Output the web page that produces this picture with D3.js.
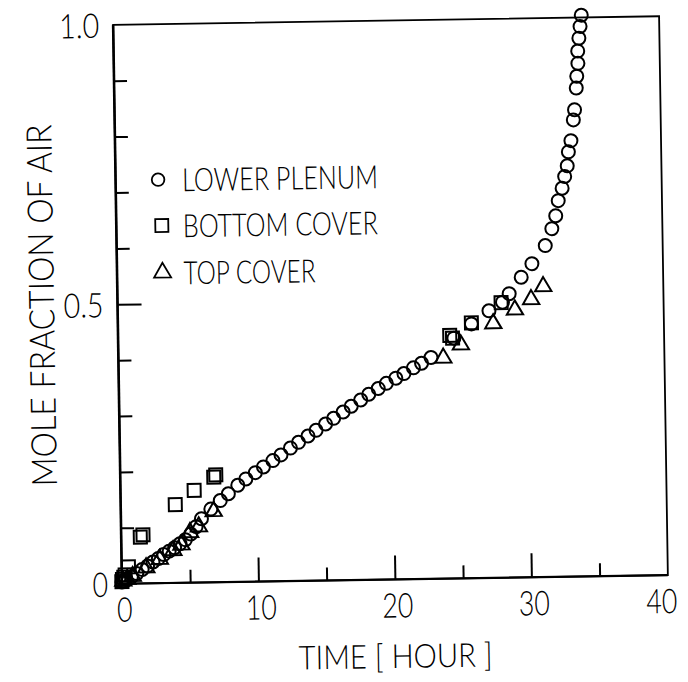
<!DOCTYPE html>
<html>
<head>
<meta charset="utf-8">
<script src="https://cdn.jsdelivr.net/npm/d3@7"></script>
<style>
  html, body { margin: 0; padding: 0; background: #fff; }
  svg { display: block; }
  text { font-family: "Lato", "Liberation Sans", sans-serif; font-weight: 300; fill: #000; }
</style>
</head>
<body>
<svg id="chart" width="688" height="682"></svg>
<script>
// ---- data ----
const lowerTime = [0, 0.15, 0.3, 0.7, 1.1, 1.5, 1.9, 2.3, 2.7, 3.1, 3.5, 3.9, 4.3, 4.7, 5.1, 5.5, 5.9,
  6.6, 7.3, 7.9, 8.6, 9.2, 9.9, 10.5, 11.2, 11.8, 12.5, 13.1, 13.8, 14.4, 15.1, 15.7, 16.4, 17.0,
  17.7, 18.3, 19.0, 19.6, 20.3, 20.9, 21.6, 22.2, 22.9,
  24.6, 25.9, 27.2, 28.2, 28.7, 29.6, 30.4, 31.4, 31.9, 32.2, 32.4, 32.7, 32.9, 33.1, 33.2, 33.4,
  33.6, 33.7, 33.85, 33.9, 34.0, 34.0, 34.1, 34.2, 34.3];
const lowerFrac = [0.003, 0.005, 0.008, 0.012, 0.018, 0.025, 0.031, 0.038, 0.044, 0.051, 0.057, 0.063, 0.070, 0.077, 0.087, 0.100, 0.114,
  0.131, 0.146, 0.158, 0.173, 0.184, 0.195, 0.205, 0.216, 0.226, 0.238, 0.248, 0.259, 0.269, 0.280, 0.290, 0.301, 0.311,
  0.322, 0.332, 0.342, 0.351, 0.360, 0.368, 0.378, 0.386, 0.396,
  0.430, 0.455, 0.478, 0.493, 0.508, 0.537, 0.561, 0.593, 0.623, 0.646, 0.673, 0.695, 0.716, 0.735, 0.760, 0.780,
  0.817, 0.835, 0.874, 0.895, 0.918, 0.940, 0.963, 0.984, 1.004];

const bottomTime = [0.0, 0.05, 0.15, 0.25, 0.5, 1.4, 1.6, 4.0, 5.4, 6.85, 7.0, 24.3, 24.5, 25.9, 28.1];
const bottomFrac = [0.004, 0.008, 0.012, 0.016, 0.030, 0.083, 0.087, 0.140, 0.165, 0.188, 0.192, 0.435, 0.430, 0.457, 0.492];

const topTime = [0.1, 0.4, 0.8, 1.8, 2.8, 3.8, 4.4, 5.05, 5.7, 6.8, 23.8, 25.1, 27.5, 29.1, 30.3, 31.2];
const topFrac = [0.005, 0.008, 0.013, 0.028, 0.043, 0.058, 0.068, 0.090, 0.100, 0.127, 0.395, 0.418, 0.455, 0.479, 0.497, 0.520];

const xTickValues = [0, 5, 10, 15, 20, 25, 30, 35, 40];
const xTickLabels = ["0", "", "10", "", "20", "", "30", "", "40"];
const yTickValues = [0, 0.1, 0.2, 0.3, 0.4, 0.5, 0.6, 0.7, 0.8, 0.9, 1.0];
const yTickLabels = ["0", "", "", "", "", "0.5", "", "", "", "", "1.0"];

const legendNames = ["LOWER PLENUM", "BOTTOM COVER", "TOP COVER"];
const xTitle = "TIME [ HOUR ]";
const yTitle = "MOLE FRACTION OF AIR";

// ---- layout ----
const pLeft = 117.5, pRight = 663.5, pTop = 20.5, pBottom = 579.5;
const svg = d3.select("#chart");
svg.append("rect").attr("width", 688).attr("height", 682).attr("fill", "#fff");
const g = svg.append("g").attr("transform", "rotate(-0.9,390.5,300)");

const x = d3.scaleLinear().domain([0, 40]).range([pLeft, pRight]);
const y = d3.scaleLinear().domain([0, 1]).range([pBottom, pTop]);

function labelWidth(s) {
  let w = 0;
  for (const c of s) w += (c === "." ? 9 : 15.5);
  return w;
}

// frame
g.append("rect").attr("x", pLeft).attr("y", pTop).attr("width", pRight - pLeft).attr("height", pBottom - pTop)
  .attr("fill", "none").attr("stroke", "#000").attr("stroke-width", 1.8);
g.append("line").attr("x1", pLeft).attr("x2", pLeft).attr("y1", pTop).attr("y2", pBottom)
  .attr("stroke", "#000").attr("stroke-width", 2.6);
g.append("line").attr("x1", pLeft).attr("x2", pRight).attr("y1", pBottom).attr("y2", pBottom)
  .attr("stroke", "#000").attr("stroke-width", 2.2);

// x axis (ticks inward)
const xAxis = d3.axisBottom(x).tickValues(xTickValues)
  .tickSize(0).tickPadding(0).tickFormat((d, i) => xTickLabels[i]);
const gx = g.append("g").attr("transform", `translate(0,${pBottom})`).call(xAxis);
gx.select(".domain").remove();
gx.selectAll(".tick line")
  .attr("y2", d => (d === 0 || d === 40) ? 0 : (d % 10 === 0 ? -24 : -13))
  .attr("stroke", "#000").attr("stroke-width", 2);
gx.selectAll(".tick text").attr("y", 0).attr("dy", "0")
  .attr("transform", d => `translate(${d === 40 ? -7 : 2},38)`)
  .attr("font-size", 34).attr("font-family", null).attr("fill", "#000")
  .each(function(d, i) { const s = xTickLabels[i]; if (s) d3.select(this).attr("textLength", labelWidth(s)).attr("lengthAdjust", "spacingAndGlyphs"); });

// y axis (ticks inward)
const yAxis = d3.axisLeft(y).tickValues(yTickValues)
  .tickSize(0).tickPadding(0).tickFormat((d, i) => yTickLabels[i]);
const gy = g.append("g").attr("transform", `translate(${pLeft},0)`).call(yAxis);
gy.select(".domain").remove();
gy.selectAll(".tick line")
  .attr("x2", d => (d === 0 || d === 1) ? 0 : (Math.abs(d - 0.5) < 1e-9 ? 24 : 13))
  .attr("stroke", "#000").attr("stroke-width", 2);
gy.selectAll(".tick text").attr("x", -14).attr("dy", "0.36em")
  .attr("font-size", 34).attr("font-family", null).attr("fill", "#000")
  .each(function(d, i) { const s = yTickLabels[i]; if (s) d3.select(this).attr("textLength", labelWidth(s)).attr("lengthAdjust", "spacingAndGlyphs"); });

// titles
g.append("text").attr("x", 390).attr("y", 668).attr("text-anchor", "middle")
  .attr("font-size", 33).attr("textLength", 194).attr("lengthAdjust", "spacingAndGlyphs").text(xTitle);
g.append("text").attr("transform", "translate(54,300) rotate(-90)").attr("text-anchor", "middle")
  .attr("font-size", 35).attr("textLength", 362).attr("lengthAdjust", "spacingAndGlyphs").text(yTitle);

// markers
const sym = {
  circle: d3.symbol().type(d3.symbolCircle).size(Math.PI * 6.5 * 6.5),
  square: d3.symbol().type(d3.symbolSquare).size(13 * 13),
  triangle: d3.symbol().type(d3.symbolTriangle).size(115)
};
function plot(ts, vs, s) {
  g.append("g").selectAll("path").data(ts.map((t, i) => [t, vs[i]])).join("path")
    .attr("transform", d => `translate(${x(d[0])},${y(d[1])})`)
    .attr("d", sym[s]).attr("fill", "none").attr("stroke", "#000").attr("stroke-width", 2);
}
plot(lowerTime, lowerFrac, "circle");
plot(bottomTime, bottomFrac, "square");
plot(topTime, topFrac, "triangle");

// legend
const legY = [176, 222, 269];
const legS = ["circle", "square", "triangle"];
const legSym = {
  circle: d3.symbol().type(d3.symbolCircle).size(Math.PI * 6.3 * 6.3),
  square: d3.symbol().type(d3.symbolSquare).size(13 * 13),
  triangle: d3.symbol().type(d3.symbolTriangle).size(125)
};
const legW = [196, 195, 132];
legendNames.forEach((name, i) => {
  g.append("path").attr("transform", `translate(${i === 0 ? 160 : 163},${legY[i]})`)
    .attr("d", legSym[legS[i]]).attr("fill", "none").attr("stroke", "#000").attr("stroke-width", 1.8);
  g.append("text").attr("x", 184).attr("y", legY[i] + 12).attr("font-size", 32)
    .attr("textLength", legW[i]).attr("lengthAdjust", "spacingAndGlyphs").text(name);
});
</script>
</body>
</html>
